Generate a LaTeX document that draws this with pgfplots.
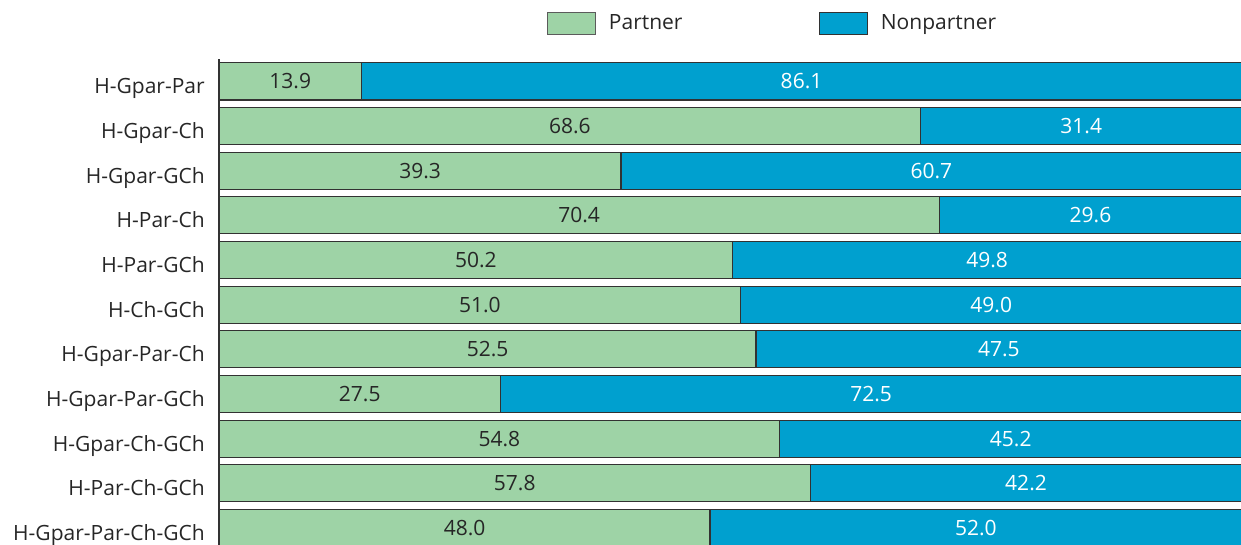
\documentclass[border=0pt]{standalone}
\usepackage{pgfplots}
\usepackage{pgfplotstable}
\pgfplotsset{compat=1.18}
\usepackage{fontspec}
\setmainfont{Open Sans}
\definecolor{partnerGreen}{RGB}{158,211,166}
\definecolor{nonBlue}{RGB}{0,160,207}
\definecolor{edgeGrey}{RGB}{50,50,50}

% y = row index (top to bottom), shares in percent
\pgfplotstableread{
y partner nonpartner
0  13.9 86.1
1  68.6 31.4
2  39.3 60.7
3  70.4 29.6
4  50.2 49.8
5  51.0 49.0
6  52.5 47.5
7  27.5 72.5
8  54.8 45.2
9  57.8 42.2
10 48.0 52.0
}\shares

\begin{document}
\begin{tikzpicture}[font=\fontsize{10.5}{12}\selectfont]
% page = 1241 x 544 px at 0.5pt per px; axis box starts at x=219px
\useasboundingbox (-109.5pt,3pt) rectangle (510.6pt,275pt);
\begin{axis}[
    at={(0,0)}, anchor=south west,
    scale only axis,
    width=511pt, height=245.5pt,
    xmin=0, xmax=100,
    ymin=-0.5, ymax=10.5,
    y dir=reverse,
    axis x line=none,
    axis y line=left,
    axis line style={-, draw=edgeGrey, line width=0.7pt},
    ytick={0,...,10},
    yticklabels={H-Gpar-Par,H-Gpar-Ch,H-Gpar-GCh,H-Par-Ch,H-Par-GCh,H-Ch-GCh,
        H-Gpar-Par-Ch,H-Gpar-Par-GCh,H-Gpar-Ch-GCh,H-Par-Ch-GCh,H-Gpar-Par-Ch-GCh},
    major tick length=0pt,
    yticklabel style={inner sep=0pt, anchor=base east, xshift=-7pt, yshift=-6.3pt, text=black!85},
    xbar, bar width=0.83,
    bar shift=0pt,
    legend columns=2,
    legend style={at={(0.542,1.073)}, anchor=center, draw=none, fill=none,
        /tikz/every odd column/.append style={column sep=4.5pt},
        /tikz/every even column/.append style={column sep=66pt},
        text=black!85},
    legend image code/.code={\draw[#1] (0pt,-5.5pt) rectangle (24pt,5.5pt);},
    every node near coord/.append style={anchor=center, font=\fontsize{10.5}{12}\selectfont},
    /pgf/number format/assume math mode=true,
    clip=false,
]
\addlegendimage{fill=partnerGreen, draw=edgeGrey!80, line width=0.6pt}
\addlegendentry{Partner}
\addlegendimage{fill=nonBlue, draw=edgeGrey, line width=0.6pt}
\addlegendentry{Nonpartner}

% nonpartner bar drawn full length underneath, partner bar on top
\addplot[forget plot, fill=nonBlue, draw=edgeGrey, line width=0.6pt]
    table[x expr=\thisrow{partner}+\thisrow{nonpartner}, y=y] {\shares};
\addplot[forget plot, fill=partnerGreen, draw=edgeGrey, line width=0.6pt]
    table[x=partner, y=y] {\shares};

% value labels in the middle of each segment
\addplot[forget plot, draw=none, mark=none,
    point meta=explicit,
    nodes near coords={\pgfmathprintnumber[fixed,precision=1,zerofill,assume math mode=true]{\pgfplotspointmeta}},
    every node near coord/.append style={text=black!85}]
    table[x expr=\thisrow{partner}/2, y=y, meta=partner] {\shares};
\addplot[forget plot, draw=none, mark=none,
    point meta=explicit,
    nodes near coords={\pgfmathprintnumber[fixed,precision=1,zerofill,assume math mode=true]{\pgfplotspointmeta}},
    every node near coord/.append style={text=white}]
    table[x expr=\thisrow{partner}+\thisrow{nonpartner}/2, y=y, meta=nonpartner] {\shares};
\end{axis}
\end{tikzpicture}
\end{document}
